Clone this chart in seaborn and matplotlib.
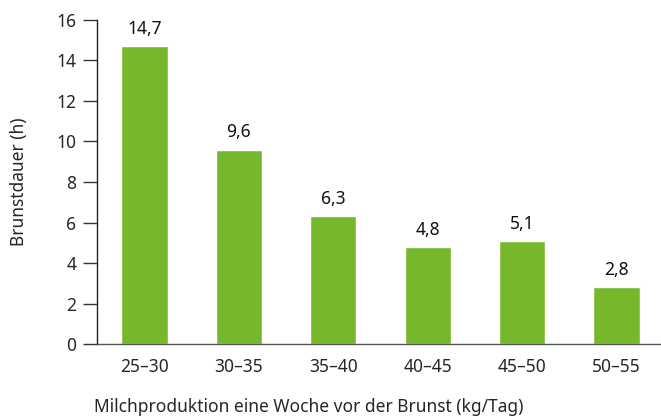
import numpy as np
import pandas as pd
import matplotlib
matplotlib.use("Agg")
import matplotlib.pyplot as plt
import seaborn as sns

categories = ["25–30", "30–35", "35–40", "40–45", "45–50", "50–55"]
values = [14.7, 9.6, 6.3, 4.8, 5.1, 2.8]
value_labels = ["14,7", "9,6", "6,3", "4,8", "5,1", "2,8"]

sns.set_style("white")
plt.rcParams["font.family"] = ["Noto Sans", "DejaVu Sans"]

df = pd.DataFrame({"Klasse": categories, "Dauer": values})

fig = plt.figure(figsize=(6.61, 4.16), dpi=100)
ax = fig.add_axes([0.147, 0.173, 0.853, 0.779])

sns.barplot(data=df, x="Klasse", y="Dauer", color="#77b72b", width=0.49,
            saturation=1, ax=ax)

for i, (v, lab) in enumerate(zip(values, value_labels)):
    ax.text(i, v + 0.4, lab, ha="center", va="bottom", fontsize=12.5, color="#111111")

ax.set_ylim(0, 16)
ax.set_yticks(np.arange(0, 17, 2))
ax.set_xlim(-0.5, 5.47)
ax.set_xticks(range(len(categories)))
ax.set_xticklabels(categories, fontsize=12.5)
ax.set_xticks(np.arange(0.5, 5, 1), minor=True)
ax.tick_params(axis="x", which="major", length=0, pad=10)
ax.tick_params(axis="x", which="minor", length=7, width=1, color="#555555", direction="out")
ax.tick_params(axis="y", length=10, width=1, color="#333333", labelsize=12.5, pad=5, left=True)

for s in ["top", "right"]:
    ax.spines[s].set_visible(False)
ax.spines["left"].set_color("#222222")
ax.spines["bottom"].set_color("#555555")
ax.spines["left"].set_linewidth(1)
ax.spines["bottom"].set_linewidth(1)

ax.set_xlabel("Milchproduktion eine Woche vor der Brunst (kg/Tag)", fontsize=12.5)
ax.xaxis.set_label_coords(0.375, -0.165)
ax.set_ylabel("Brunstdauer (h)", fontsize=12.5)
ax.yaxis.set_label_coords(-0.123, 0.5)

fig.savefig("out.png", dpi=100)
